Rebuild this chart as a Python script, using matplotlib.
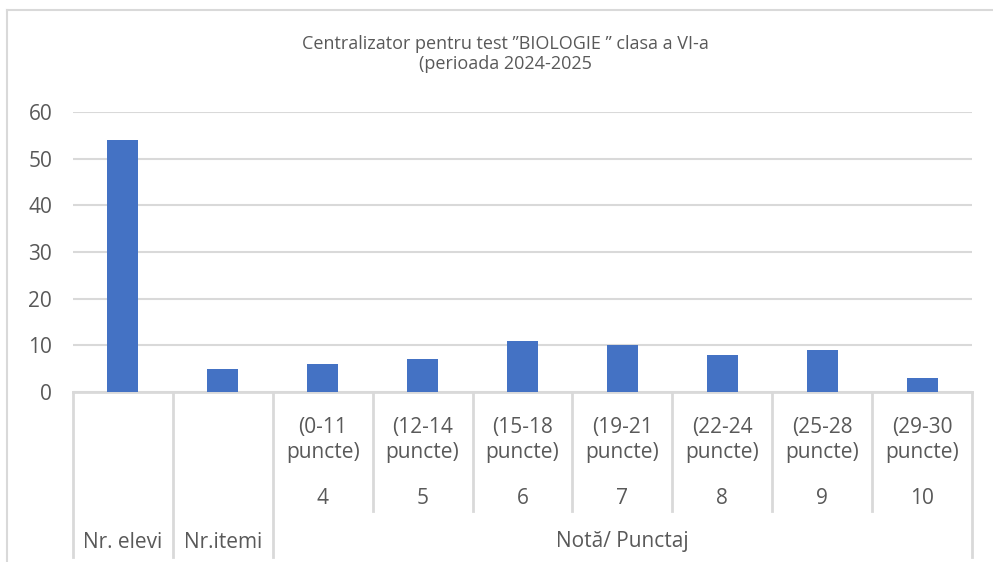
import matplotlib.pyplot as plt
from matplotlib.lines import Line2D
from matplotlib.transforms import blended_transform_factory

# date
categorii = ["Nr. elevi", "Nr.itemi", "4", "5", "6", "7", "8", "9", "10"]
intervale = ["", "", "(0-11\npuncte)", "(12-14\npuncte)", "(15-18\npuncte)",
             "(19-21\npuncte)", "(22-24\npuncte)", "(25-28\npuncte)", "(29-30\npuncte)"]
valori = [54, 5, 6, 7, 11, 10, 8, 9, 3]
eticheta_grup = "Notă/ Punctaj"
titlu = "Centralizator pentru test \u201dBIOLOGIE \u201d clasa a VI-a\n(perioada 2024-2025"

W, H = 993, 562
gri_text = "#595959"
gri_linie = "#d9d9d9"
fs = 15

plt.rcParams['font.family'] = ['Open Sans', 'DejaVu Sans']

fig = plt.figure(figsize=(W / 100, H / 100), dpi=100)
ax = fig.add_axes([73 / W, 1 - 392 / H, (972 - 73) / W, (392 - 112) / H])

x = list(range(len(categorii)))
ax.bar(x, valori, width=0.31, color="#4472C4", zorder=3)
ax.set_xlim(-0.5, len(categorii) - 0.5)
ax.set_ylim(0, 60)
ax.set_yticks(range(0, 61, 10))
ax.tick_params(axis='y', length=0, labelsize=fs, labelcolor=gri_text, pad=15)
ax.set_xticks([])
ax.grid(axis='y', color=gri_linie, lw=1.5, zorder=0)
for s in ax.spines.values():
    s.set_visible(False)

# titlul
fig.text(505 / W, 1 - 54 / H, titlu, ha='center', va='center',
         fontsize=13, color=gri_text, linespacing=1.2)

# axa pe categorii (tabel sub grafic)
tr = blended_transform_factory(ax.transData, fig.transFigure)
def fy(py):
    return 1 - py / H

ax.add_line(Line2D([-0.5, len(categorii) - 0.5], [fy(392), fy(392)], transform=tr,
                   color=gri_linie, lw=2, clip_on=False))
for i in range(len(categorii) + 1):
    xb = i - 0.5
    jos = 557 if i in (0, 1, 2, len(categorii)) else 511
    ax.add_line(Line2D([xb, xb], [fy(392), fy(jos)], transform=tr,
                       color=gri_linie, lw=2, clip_on=False))

for i, (c, iv) in enumerate(zip(categorii, intervale)):
    if i < 2:
        ax.text(i, fy(542), c, transform=tr, ha='center', va='center',
                fontsize=fs, color=gri_text)
    else:
        ax.text(i, fy(440), iv, transform=tr, ha='center', va='center',
                fontsize=fs, color=gri_text, linespacing=1.3)
        ax.text(i, fy(498), c, transform=tr, ha='center', va='center',
                fontsize=fs, color=gri_text)
ax.text(5, fy(542), eticheta_grup, transform=tr, ha='center', va='center',
        fontsize=fs, color=gri_text)

# chenarul graficului
fig.add_artist(Line2D([7 / W, 7 / W], [0, fy(10)], color=gri_linie, lw=1.5))
fig.add_artist(Line2D([7 / W, 1], [fy(10), fy(10)], color=gri_linie, lw=1.5))

fig.savefig("out.png", dpi=100, facecolor="white")
